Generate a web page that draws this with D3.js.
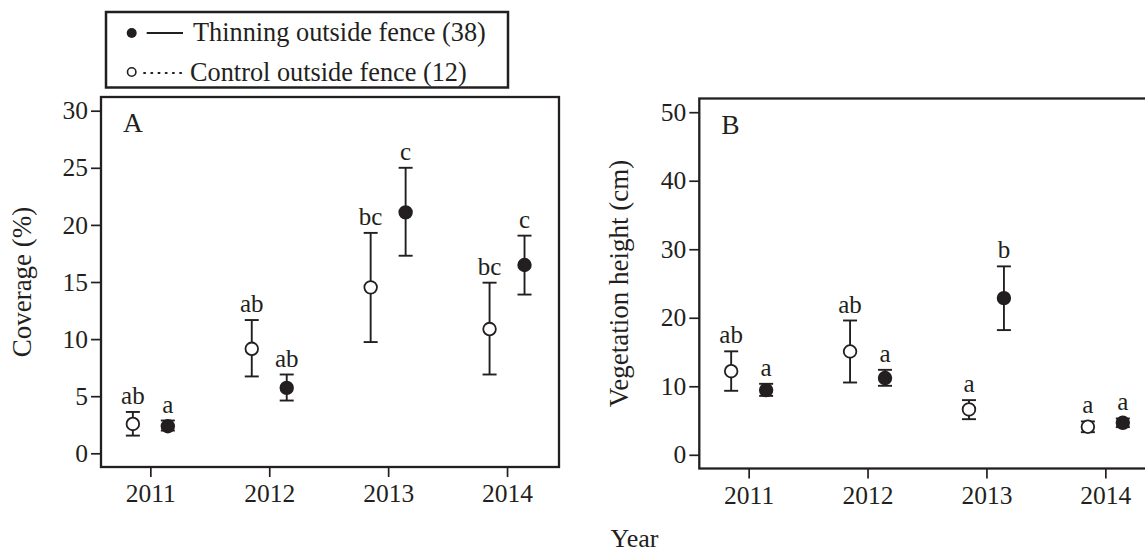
<!DOCTYPE html>
<html>
<head>
<meta charset="utf-8">
<script src="https://cdn.jsdelivr.net/npm/d3@7/dist/d3.min.js"></script>
<style>
  html, body { margin: 0; padding: 0; background: #fff; }
  svg { display: block; }
  text { font-family: "Liberation Serif", "Times New Roman", serif; fill: #231f20; }
</style>
</head>
<body>
<svg id="chart" width="1145" height="554"></svg>
<script>
// ---------- data ----------
const years = [2011, 2012, 2013, 2014];
const yearTicks = ["2011", "2012", "2013", "2014"];

// Panel A: coverage (%)
const coverControlMean = [2.57, 9.15, 14.53, 10.88];
const coverControlHi   = [3.62, 11.67, 19.3, 14.94];
const coverControlLo   = [1.55, 6.73, 9.74, 6.9];
const coverThinMean    = [2.37, 5.73, 21.1, 16.49];
const coverThinHi      = [2.87, 6.9, 25.0, 19.06];
const coverThinLo      = [1.99, 4.62, 17.3, 13.9];
const coverControlLetters = ["ab", "ab", "bc", "bc"];
const coverThinLetters    = ["a", "ab", "c", "c"];
const coverTicks = [0, 5, 10, 15, 20, 25, 30];

// Panel B: vegetation height (cm)
const heightControlMean = [12.2, 15.08, 6.62, 4.09];
const heightControlHi   = [15.1, 19.6, 7.98, 4.87];
const heightControlLo   = [9.34, 10.55, 5.2, 3.3];
const heightThinMean    = [9.44, 11.2, 22.87, 4.67];
const heightThinHi      = [10.36, 12.4, 27.5, 5.3];
const heightThinLo      = [8.6, 10.07, 18.2, 4.04];
const heightControlLetters = ["ab", "ab", "a", "a"];
const heightThinLetters    = ["a", "a", "b", "a"];
const heightTicks = [0, 10, 20, 30, 40, 50];

const legendLabels = ["Thinning outside fence (38)", "Control outside fence (12)"];

// ---------- drawing ----------
const svg = d3.select("#chart");
const ink = "#231f20";
const FS = 25.5;
const dodge = 0.147;

function panel(opts) {
  const g = svg.append("g");
  const x = d3.scaleLinear().domain([2010.585, 2014.437]).range([opts.left, opts.left + 458]);
  const y = d3.scaleLinear().domain(opts.ydom).range([opts.bottom, opts.top]);

  // y axis
  const ya = g.append("g").attr("transform", `translate(${opts.left},0)`)
    .call(d3.axisLeft(y).tickValues(opts.yticks).tickSize(10).tickPadding(3).tickSizeOuter(0));
  ya.select(".domain").remove();
  ya.selectAll("line").attr("stroke", ink).attr("stroke-width", 1.7);
  ya.selectAll("text").style("font-size", FS + "px").attr("fill", ink);

  // x axis
  const xa = g.append("g").attr("transform", `translate(0,${opts.bottom})`)
    .call(d3.axisBottom(x).tickValues(years).tickFormat((d, i) => yearTicks[i]).tickSize(10).tickPadding(7).tickSizeOuter(0));
  xa.select(".domain").remove();
  xa.selectAll("line").attr("stroke", ink).attr("stroke-width", 1.7);
  xa.selectAll("text").style("font-size", FS + "px").attr("fill", ink);

  // frame
  g.append("rect")
    .attr("x", x.range()[0]).attr("y", opts.top)
    .attr("width", x.range()[1] - x.range()[0]).attr("height", opts.bottom - opts.top)
    .attr("fill", "none").attr("stroke", ink).attr("stroke-width", 2.3);

  // panel letter
  g.append("text").attr("x", opts.left + 22).attr("y", opts.top + 35)
    .style("font-size", "27.5px").text(opts.tag);

  // y label
  g.append("text")
    .attr("transform", `translate(${opts.ylabX},${(opts.top + opts.bottom) / 2}) rotate(-90)`)
    .attr("text-anchor", "middle").style("font-size", "27px").text(opts.ylabel);

  const series = [
    { mean: opts.cMean, hi: opts.cHi, lo: opts.cLo, letters: opts.cLet, off: -dodge, filled: false },
    { mean: opts.tMean, hi: opts.tHi, lo: opts.tLo, letters: opts.tLet, off: dodge, filled: true }
  ];
  series.forEach(s => {
    years.forEach((yr, i) => {
      const cx = x(yr + s.off);
      g.append("line").attr("x1", cx).attr("x2", cx).attr("y1", y(s.lo[i])).attr("y2", y(s.hi[i]))
        .attr("stroke", ink).attr("stroke-width", 1.9);
      [s.lo[i], s.hi[i]].forEach(v => {
        g.append("line").attr("x1", cx - 7).attr("x2", cx + 7).attr("y1", y(v)).attr("y2", y(v))
          .attr("stroke", ink).attr("stroke-width", 1.9);
      });
      g.append("circle").attr("cx", cx).attr("cy", y(s.mean[i])).attr("r", 6.3)
        .attr("fill", s.filled ? ink : "#fff").attr("stroke", ink).attr("stroke-width", 1.8);
      g.append("text").attr("x", cx).attr("y", y(s.hi[i]) - 8)
        .attr("text-anchor", "middle").style("font-size", "25px").text(s.letters[i]);
    });
  });
}

panel({
  left: 101, top: 97, bottom: 467, ydom: [-1.2, 31.2], yticks: coverTicks, tag: "A",
  ylabel: "Coverage (%)", ylabX: 31,
  cMean: coverControlMean, cHi: coverControlHi, cLo: coverControlLo, cLet: coverControlLetters,
  tMean: coverThinMean, tHi: coverThinHi, tLo: coverThinLo, tLet: coverThinLetters
});

panel({
  left: 699.3, top: 98.5, bottom: 468.5, ydom: [-2, 52], yticks: heightTicks, tag: "B",
  ylabel: "Vegetation height (cm)", ylabX: 628,
  cMean: heightControlMean, cHi: heightControlHi, cLo: heightControlLo, cLet: heightControlLetters,
  tMean: heightThinMean, tHi: heightThinHi, tLo: heightThinLo, tLet: heightThinLetters
});

// x title
svg.append("text").attr("x", 634.5).attr("y", 547).attr("text-anchor", "middle")
  .style("font-size", "26px").text("Year");

// legend
const lg = svg.append("g");
lg.append("rect").attr("x", 106).attr("y", 12).attr("width", 402).attr("height", 75.5)
  .attr("fill", "#fff").attr("stroke", ink).attr("stroke-width", 2.5);
const rows = [33, 72];
lg.append("circle").attr("cx", 131.7).attr("cy", rows[0]).attr("r", 5).attr("fill", ink);
lg.append("line").attr("x1", 146.7).attr("x2", 183).attr("y1", rows[0]).attr("y2", rows[0])
  .attr("stroke", ink).attr("stroke-width", 2);
lg.append("circle").attr("cx", 131.7).attr("cy", rows[1]).attr("r", 4.2).attr("fill", "#fff")
  .attr("stroke", ink).attr("stroke-width", 1.6);
lg.append("line").attr("x1", 144).attr("x2", 183).attr("y1", rows[1] + 1).attr("y2", rows[1] + 1)
  .attr("stroke", ink).attr("stroke-width", 1.8).attr("stroke-dasharray", "1.2,6").attr("stroke-linecap", "round");
lg.append("text").attr("x", 193).attr("y", 41).style("font-size", "26.3px").text(legendLabels[0]);
lg.append("text").attr("x", 190).attr("y", 80.5).style("font-size", "26.3px").text(legendLabels[1]);
</script>
</body>
</html>
